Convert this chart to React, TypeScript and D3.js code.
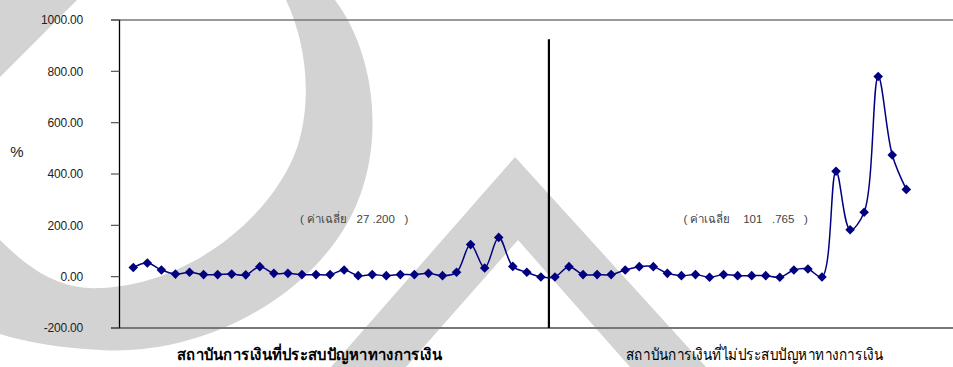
import React from "react";
import * as d3 from "d3";

// ---- data ----
const groupLabels = ["สถาบันการเงินที่ประสบปัญหาทางการเงิน", "สถาบันการเงินที่ไม่ประสบปัญหาทางการเงิน"];
const meanLabels = ["( ค่าเฉลี่ย   27 .200   )", "( ค่าเฉลี่ย    101   .765   )"];
const troubledValues = [36, 53, 26, 10, 17, 8, 8, 10, 7, 39, 13, 13, 8, 8, 8, 26, 4, 8, 4, 8, 8, 13, 4, 17, 125, 34, 153, 40, 17, -1];
const healthyValues = [-1, 39, 8, 8, 8, 26, 39, 39, 13, 4, 8, -2, 8, 4, 4, 4, -2, 26, 30, -1, 411, 183, 251, 780, 474, 340];
const yTicks = [-200, 0, 200, 400, 600, 800, 1000];
const yUnit = "%";

const W = 953;
const H = 367;

export default function App() {
  const values = [...troubledValues, ...healthyValues];
  const idx = values.map((_, i) => i);
  const x = d3.scalePoint<number>().domain(idx).range([133.3, 906.3]);
  const y = d3.scaleLinear().domain([-200, 1000]).range([328, 20]);
  const line = d3
    .line<number>()
    .x((_, i) => x(i)!)
    .y((d) => y(d))
    .curve(d3.curveCatmullRom.alpha(0.5));
  const marker = d3.symbol(d3.symbolSquare, 46)();
  const divX = (x(troubledValues.length - 1)! + x(troubledValues.length)!) / 2 + 1;
  const leftMid = (x(0)! + x(troubledValues.length - 1)!) / 2 + 17;
  const rightMid = (x(troubledValues.length)! + x(values.length - 1)!) / 2 + 15;

  const font = "'Liberation Sans', Arial, sans-serif";
  const wm = "#d3d3d3";

  return (
    <svg
      width={W}
      height={H}
      style={{ position: "absolute", left: 0, top: 0, background: "#fff" }}
      fontFamily={font}
    >
      {/* watermark */}
      <g fill={wm}>
        <path d="M0,0 L77,0 L0,77 Z" />
        <path d="M335,0 C380,60 388,165 340,235 C290,310 190,356 100,350 C60,348 25,342 0,334 L0,240 C30,270 60,290 100,288 C190,285 275,215 298,145 C313,95 305,40 286,0 Z" />
        <path d="M515,157 L706,367 L630,367 L518,240 L406,367 L331,367 Z" />
      </g>

      {/* frame */}
      <line x1={111} x2={W} y1={y(1000)} y2={y(1000)} stroke="#777" strokeWidth={1.3} />
      <line x1={111} x2={W} y1={y(-200)} y2={y(-200)} stroke="#777" strokeWidth={2} />
      <line x1={119.5} x2={119.5} y1={y(1000)} y2={y(-200)} stroke="#000" strokeWidth={1.3} />
      {yTicks.map((t) => (
        <g key={t}>
          <line x1={111} x2={119.5} y1={y(t)} y2={y(t)} stroke="#555" strokeWidth={1.2} />
          <text x={83} y={y(t)} dy="0.35em" textAnchor="end" fontSize={12} fill="#222" letterSpacing={-0.2}>
            {t.toFixed(2)}
          </text>
        </g>
      ))}
      <text x={17} y={152} dy="0.35em" textAnchor="middle" fontSize={15} fill="#222">
        {yUnit}
      </text>

      {/* divider */}
      <line x1={divX} x2={divX} y1={y(925)} y2={y(-200)} stroke="#000" strokeWidth={2.2} />

      {/* series */}
      <path d={line(values) || ""} fill="none" stroke="#000080" strokeWidth={1.5} />
      {values.map((v, i) => (
        <path key={i} d={marker || ""} transform={`translate(${x(i)},${y(v)}) rotate(45)`} fill="#000080" />
      ))}

      {/* mean labels */}
      <text x={leftMid} y={y(225)} dy="0.35em" textAnchor="middle" fontSize={11.5} fill="#444" xmlSpace="preserve">
        {meanLabels[0]}
      </text>
      <text x={rightMid} y={y(225)} dy="0.35em" textAnchor="middle" fontSize={11.5} fill="#444" xmlSpace="preserve">
        {meanLabels[1]}
      </text>

      {/* group labels */}
      <text x={309.5} y={360} textAnchor="middle" fontSize={16} fontWeight="bold" fill="#000" fontFamily="'Noto Sans', sans-serif" textLength={265} lengthAdjust="spacingAndGlyphs">
        {groupLabels[0]}
      </text>
      <text x={754.5} y={360} textAnchor="middle" fontSize={16} fill="#000" fontFamily="'Noto Sans', sans-serif" textLength={257} lengthAdjust="spacingAndGlyphs">
        {groupLabels[1]}
      </text>
    </svg>
  );
}
